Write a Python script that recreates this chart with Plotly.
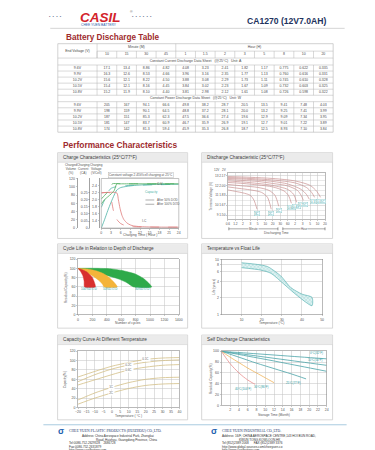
import plotly.graph_objects as go

W, H = 375, 450
FONT = "Liberation Sans, Arial, sans-serif"
SERIF = "Liberation Serif, DejaVu Serif, serif"

# ---------------- header text ----------------
brand_name = "CASIL"
brand_sub = "CHEE YUEN BATTERY"
model_title = "CA1270 (12V7.0AH)"
table_title = "Battery Discharge Table"
perf_title = "Performance Characteristics"

# ---------------- discharge table ----------------
minute_cols = ["10", "15", "30", "45"]
hour_cols = ["1", "1.5", "2", "3", "5", "8", "10", "20"]
end_voltages = ["9.6V", "9.9V", "10.2V", "10.5V", "10.8V"]
current_a_96 = ["17.1", "13.4", "8.86", "4.82", "4.08", "3.23", "2.41", "1.82", "1.17", "0.775", "0.622", "0.335"]
current_a_99 = ["16.3", "12.6", "8.53", "4.66", "3.96", "3.16", "2.35", "1.77", "1.13", "0.760", "0.616", "0.331"]
current_a_102 = ["15.6", "12.1", "8.22", "4.50", "3.88", "3.08", "2.29", "1.73", "1.11", "0.745", "0.610", "0.328"]
current_a_105 = ["15.4", "12.1", "8.16", "4.45", "3.84", "3.02", "2.23", "1.67", "1.09", "0.732", "0.603", "0.325"]
current_a_108 = ["15.2", "11.9", "8.10", "4.40", "3.81", "2.98", "2.12", "1.61", "1.08", "0.726", "0.598", "0.322"]
power_w_96 = ["205", "167", "94.1", "66.6", "49.8", "38.2", "28.7", "20.5", "13.5", "9.41", "7.48", "4.03"]
power_w_99 = ["198", "159", "90.1", "64.5", "48.8", "37.2", "28.1", "20.0", "13.2", "9.25", "7.41", "3.99"]
power_w_102 = ["187", "151", "85.3", "62.3", "47.5", "36.6", "27.4", "19.6", "12.9", "9.09", "7.34", "3.95"]
power_w_105 = ["181", "147", "83.7", "60.9", "46.7", "35.9", "26.9", "19.1", "12.7", "9.01", "7.22", "3.89"]
power_w_108 = ["174", "142", "81.3", "59.4", "45.9", "35.3", "26.8", "18.7", "12.5", "8.93", "7.10", "3.84"]
cc_caption = "Constant Current Discharge Data Sheet   (@25°C)   Unit: A"
cp_caption = "Constant Power Discharge Data Sheet   (@25°C)   Unit: W"

# ---------------- chart 1: charge characteristics ----------------
charge_hours_ticks = [0, 3, 6, 9, 12, 15, 18, 21, 24]
volume_ticks = [0, 20, 40, 60, 80, 100, 120]
current_ticks = [0, 0.05, 0.10, 0.15, 0.20, 0.25]
current_ticklabels = ["0", "0.05", "0.10", "0.15", "0.20", "0.25"]
voltage_ticks = [1.4, 1.6, 1.8, 2.0, 2.2, 2.4]
voltage_ticklabels = ["1.4", "1.6", "1.8", "2.0", "2.2", "2.4"]
vol100_t = [0, 1, 2, 3, 4, 4.8, 6, 8, 10, 14, 18, 24]
vol100_v = [0, 20, 42, 62, 80, 92, 98, 101, 103, 105, 106, 106]
vol50_t = [0, 1, 2, 2.5, 3, 4, 6, 8, 12, 18, 24]
vol50_v = [50, 68, 85, 92, 96, 99, 101, 103, 104, 105, 106]
cur100_t = [0, 4.8, 5.3, 5.8, 6.4, 7, 8, 9, 10, 12, 16, 24]
cur100_v = [0.25, 0.25, 0.20, 0.14, 0.09, 0.06, 0.035, 0.022, 0.015, 0.010, 0.007, 0.006]
cur50_t = [0, 2.6, 3.2, 3.7, 4.2, 5, 6, 7, 8, 10, 14, 24]
cur50_v = [0.25, 0.25, 0.19, 0.13, 0.09, 0.055, 0.032, 0.021, 0.014, 0.009, 0.007, 0.006]
volt100_t = [0, 1, 2, 3, 4, 4.8, 6, 10, 24]
volt100_v = [1.88, 2.0, 2.08, 2.16, 2.26, 2.45, 2.45, 2.45, 2.45]
volt50_t = [0, 1, 2, 3, 3.4, 6, 24]
volt50_v = [2.02, 2.12, 2.22, 2.34, 2.45, 2.45, 2.45]

# ---------------- chart 2: discharge characteristic ----------------
dis_time_labels = ["0.6", "1.2", "2", "3", "5", "10", "20", "30", "60", "2", "3", "5", "10", "20"]
dis_volt_ticks = [9, 10, 11, 12, 13]
dis_volt_labels = ["9", "10", "11", "12", "13"]
dis_cell_labels = ["1.50", "1.67", "1.83", "2.00", "2.17"]
dis_rates = ["3C", "2C", "1C", "0.6C", "0.4C", "0.25C", "0.17C", "0.1C", "0.05C"]
dis_x = [
    [0, 1, 2, 3, 3.5, 3.9],
    [0, 1.5, 3, 4.5, 5.3, 5.8],
    [0, 2, 4, 5.5, 6.3, 6.8],
    [0, 2, 4, 6, 7.5, 8.1, 8.5],
    [0, 2, 4, 6, 8, 8.8, 9.2],
    [0, 2, 4, 6, 8, 9.3, 9.8, 10.1],
    [0, 3, 6, 8, 9.8, 10.5, 10.9],
    [0, 3, 6, 9, 10.5, 11.2, 11.6],
    [0, 3, 6, 9, 11, 11.9, 12.4],
]
dis_v = [
    [11.55, 11.4, 11.25, 11.0, 10.5, 9.6],
    [11.85, 11.7, 11.55, 11.3, 10.8, 9.6],
    [12.1, 11.95, 11.8, 11.5, 11.0, 9.9],
    [12.3, 12.2, 12.05, 11.85, 11.45, 11.0, 10.2],
    [12.45, 12.35, 12.2, 12.0, 11.6, 11.1, 10.3],
    [12.6, 12.5, 12.4, 12.2, 11.95, 11.5, 11.0, 10.5],
    [12.7, 12.6, 12.4, 12.15, 11.6, 11.1, 10.6],
    [12.8, 12.7, 12.55, 12.25, 11.8, 11.3, 10.8],
    [12.9, 12.82, 12.7, 12.45, 12.0, 11.4, 10.8],
]

# ---------------- chart 3: cycle life ----------------
cycle_ticks = [0, 200, 400, 600, 800, 1000, 1200, 1400]
cycle_cap_ticks = [0, 20, 40, 60, 80, 100, 120]
dod100_up_x = [0, 60, 136, 200, 240]
dod100_up_y = [100, 97, 91, 80, 60]
dod100_lo_x = [0, 30, 68, 85, 91]
dod100_lo_y = [100, 95, 84, 72, 60]
dod50_up_x = [0, 120, 250, 350, 432, 500, 545]
dod50_up_y = [100, 99, 95, 89, 80.6, 70, 60]
dod50_lo_x = [0, 80, 159, 230, 295, 340, 363]
dod50_lo_y = [100, 95, 88, 81, 73.4, 66, 60]
dod30_up_x = [0, 200, 432, 600, 796, 920, 1022]
dod30_up_y = [100, 100.5, 99.5, 96, 88, 77, 60]
dod30_lo_x = [0, 120, 250, 400, 568, 680, 772]
dod30_lo_y = [100, 96, 91, 85, 77, 69, 60]
dod_labels = ["100%D.O.D", "50%D.O.D", "30%D.O.D"]

# ---------------- chart 4: float life ----------------
float_temp_ticks = [10, 20, 30, 40, 50]
float_life_ticks = [1, 2, 4, 6, 8, 10]
float_up_t = [10, 18, 23, 29.5, 34.4, 40, 45]
float_up_y = [8.7, 8.1, 7.4, 5.0, 3.1, 2.35, 2.05]
float_lo_t = [10, 19.7, 24.6, 31.1, 37.7, 45]
float_lo_y = [7.1, 6.4, 5.6, 3.55, 2.2, 1.45]

# ---------------- chart 5: capacity vs temperature ----------------
cap_temp_ticks = [-20, -15, -10, -5, 0, 5, 10, 15, 20, 25, 30, 35, 40]
cap_ticks = [0, 20, 40, 60, 80, 100, 120]
cap_temps = [-20, -10, 0, 10, 20, 30, 40]
cap_curves = [
    [65, 77, 88, 96, 102.5, 105.5, 106.5],
    [55, 70, 82, 90.5, 96.5, 100, 101.5],
    [48, 59, 70, 80, 86, 90, 91.5],
    [16, 31, 43, 53, 60, 63.5, 64.5],
    [7, 20, 31, 40.5, 47, 50, 51],
]
cap_labels = ["0.1C", "0.2C", "0.6C", "1C", "2C"]

# ---------------- chart 6: self discharge ----------------
sd_month_ticks = [2, 4, 6, 8, 10, 12, 14, 16, 18, 20, 22, 24]
sd_cap_ticks = [0, 20, 40, 60, 80, 100]
sd_months = [
    [0, 6, 12, 18, 24],
    [0, 6, 12, 18, 24],
    [0, 6, 12, 18, 24],
    [0, 4, 8, 12, 16, 19.3],
    [0, 2, 4, 6, 8, 10, 12],
    [0, 1, 2, 3, 4, 5, 6, 7, 7.7],
]
sd_caps = [
    [100, 96.5, 93, 89.5, 86],
    [100, 93.5, 87, 80.5, 74],
    [100, 91, 82, 72.5, 63],
    [100, 89, 78, 68, 58, 49],
    [100, 89, 79, 69, 60, 51, 42],
    [100, 88, 77, 68, 60, 53, 47, 42, 39],
]
sd_labels = ["0°C(32°F)", "10°C(50°F)", "", "25°C(77°F)", "30°C(86°F)", "40°C(104°F)"]
sd_colors = ["#4aa3a8", "#4aa3a8", "#4aa3a8", "#4aa3a8", "#f0b45a", "#e88f8f"]

# ---------------- footer text ----------------
footer_left = [
    "Address: China Aerospace Industrial Park, Zhongkai",
    "Road, Huizhou, Guangdong Province, China",
    "Tel:0086-752-2629328    2686728",
    "Fax:0086-752-2631879",
    "http://www.casilbattery.com",
]
footer_right = [
    "Address: 16/F, CHINA AEROSPACE CENTRE,143 HOI BUN ROAD,",
    "KWUN TONG,KOWLOON,HK",
    "Tel:(852)2389 2068      FAX:(852)2389 3376",
    "http://www.global-sources.com/cheeyuen.co",
    "http://www.casilbattery.com",
]
company_left = "CHEE YUEN PLASTIC PRODUCTS (HUIZHOU) CO.,LTD."
company_right = "CHEE YUEN INDUSTRIAL CO.,LTD."
panel_titles = [
    "Charge Characteristics (25°C/77°F)",
    "Discharge Characteristic (25°C/77°F)",
    "Cycle Life in Relation to Depth of Discharge",
    "Temperature vs Float Life",
    "Capacity Curve At Different Temperature",
    "Self Discharge Characteristics",
]

# =====================================================================
def px(x):
    return x / W


def py(y):
    return 1 - y / H


annotations = []
shapes = []


def ann(x, y, text, size=3.6, color="#444", xanchor="center", yanchor="middle",
        family=FONT, **kw):
    d = dict(x=px(x), y=py(y), xref="paper", yref="paper", text=text, showarrow=False,
             font=dict(size=size, color=color, family=family), xanchor=xanchor,
             yanchor=yanchor, borderpad=0)
    d.update(kw)
    annotations.append(d)


def rect(x0, y0, x1, y1, line_color="#c8c8c8", fill="rgba(0,0,0,0)", width=0.7, layer="below"):
    shapes.append(dict(type="rect", xref="paper", yref="paper", x0=px(x0), x1=px(x1),
                       y0=py(y0), y1=py(y1), line=dict(color=line_color, width=width),
                       fillcolor=fill, layer=layer))


def hline(x0, x1, y, color="#b8b8b8", width=0.5, dash="solid", layer="below"):
    shapes.append(dict(type="line", xref="paper", yref="paper", x0=px(x0), x1=px(x1),
                       y0=py(y), y1=py(y), line=dict(color=color, width=width, dash=dash),
                       layer=layer))


def vline(x, y0, y1, color="#b8b8b8", width=0.5, layer="below"):
    shapes.append(dict(type="line", xref="paper", yref="paper", x0=px(x), x1=px(x),
                       y0=py(y0), y1=py(y1), line=dict(color=color, width=width),
                       layer=layer))


TICKFONT = dict(size=3.5, color="#555", family=FONT)


def axstyle(**kw):
    base = dict(showline=True, linecolor="#8a8a8a", linewidth=0.6, mirror=True,
                ticks="outside", ticklen=1.2, tickwidth=0.4, tickcolor="#777",
                tickfont=TICKFONT, showgrid=True, gridcolor="#c2c2c2", gridwidth=0.5,
                zeroline=False, fixedrange=True)
    base.update(kw)
    return base


fig = go.Figure()

# ---------------- header ----------------
ann(38, 7, "•  •  •  •", size=4, color="#5a6a8a", xanchor="left")
ann(122, 7, "•  •  •  •  •  •", size=4, color="#5a6a8a", xanchor="left")
ann(91.5, 7.8, "<b><i>" + brand_name + "</i></b>", size=13.5, color="#d3232b")
ann(123, 2.5, "®", size=3.5, color="#666")
ann(90, 15.2, brand_sub, size=3.3, color="#2d5da8")
ann(281, 11.5, "<b>" + model_title + "</b>", size=8.6, color="#22335e")
hline(40, 340, 18.5, color="#c9c9c9", width=0.8, layer="above")
ann(55, 27.8, "<b>" + table_title + "</b>", size=8.2, color="#9e2b2d", xanchor="left")
ann(52, 136.3, "<b>" + perf_title + "</b>", size=8.4, color="#9e2b2d", xanchor="left")

# ---------------- table ----------------
col_edges = [47.7, 87.7] + [87.7 + 20.05 * (i + 1) for i in range(12)]
col_mid = [(col_edges[i] + col_edges[i + 1]) / 2 for i in range(13)]
row_edges = [34, 41.5, 48.5, 55.5, 61.6, 67.7, 73.8, 79.9, 86.0, 92.5, 98.66, 104.82,
             110.98, 117.14, 123.3]
row_mid = [(row_edges[i] + row_edges[i + 1]) / 2 for i in range(14)]
TL = "#b3b3b3"
for i, y in enumerate(row_edges):
    if i == 1:
        hline(col_edges[1], col_edges[-1], y, color=TL)
    else:
        hline(col_edges[0], col_edges[-1], y, color=TL, width=0.6 if i in (0, 14) else 0.5)
vline(col_edges[0], row_edges[0], row_edges[-1], color=TL, width=0.6)
vline(col_edges[-1], row_edges[0], row_edges[-1], color=TL, width=0.6)
vline(col_edges[1], row_edges[0], row_edges[2], color=TL)
vline(col_edges[5], row_edges[0], row_edges[1], color=TL)
for j in range(1, 13):
    vline(col_edges[j], row_edges[1], row_edges[2], color=TL)
    vline(col_edges[j], row_edges[3], row_edges[8], color=TL)
    vline(col_edges[j], row_edges[9], row_edges[14], color=TL)

tx, ty, tt = [], [], []
tx.append(col_mid[0]); ty.append((row_edges[0] + row_edges[2]) / 2); tt.append("End Voltage (V)")
tx.append((col_edges[1] + col_edges[5]) / 2); ty.append(row_mid[0]); tt.append("Minute (M)")
tx.append((col_edges[5] + col_edges[13]) / 2); ty.append(row_mid[0]); tt.append("Hour (H)")
for j, lab in enumerate(minute_cols + hour_cols):
    tx.append(col_mid[j + 1]); ty.append(row_mid[1]); tt.append(lab)
tx.append((col_edges[0] + col_edges[-1]) / 2); ty.append(row_mid[2]); tt.append(cc_caption)
tx.append((col_edges[0] + col_edges[-1]) / 2); ty.append(row_mid[8]); tt.append(cp_caption)
cc_rows = [current_a_96, current_a_99, current_a_102, current_a_105, current_a_108]
cp_rows = [power_w_96, power_w_99, power_w_102, power_w_105, power_w_108]
for r, (ev, vals) in enumerate(zip(end_voltages, cc_rows)):
    tx.append(col_mid[0]); ty.append(row_mid[3 + r]); tt.append(ev)
    for j, v in enumerate(vals):
        tx.append(col_mid[j + 1]); ty.append(row_mid[3 + r]); tt.append(v)
for r, (ev, vals) in enumerate(zip(end_voltages, cp_rows)):
    tx.append(col_mid[0]); ty.append(row_mid[9 + r]); tt.append(ev)
    for j, v in enumerate(vals):
        tx.append(col_mid[j + 1]); ty.append(row_mid[9 + r]); tt.append(v)
fig.add_trace(go.Scatter(x=tx, y=ty, text=tt, mode="text", xaxis="x10", yaxis="y10",
                         textfont=dict(size=3.5, color="#4a4a4a", family=FONT),
                         textposition="middle center", cliponaxis=False,
                         hoverinfo="skip", showlegend=False))

# ---------------- panels ----------------
panel_boxes = [
    (47.5, 144, 180, 230.5), (194.3, 144, 327.7, 230.5),
    (47.5, 236, 180, 321), (194.3, 236, 327.7, 321),
    (47.5, 328, 180, 413.5), (194.3, 328, 327.7, 413.5),
]
for title, (x0, y0, x1, y1) in zip(panel_titles, panel_boxes):
    rect(x0, y0, x1, y1, line_color="#cdcdcd", fill="white", width=0.8)
    rect(x0 + 0.4, y0 + 0.4, x1 - 0.4, y0 + 9.6, line_color="rgba(0,0,0,0)", fill="#ebebeb", width=0)
    hline(x0, x1, y0 + 9.6, color="#d0d0d0", width=0.6)
    ann(x0 + 4.5, y0 + 4.9, title, size=4.7, color="#3c3c3c", xanchor="left")

# ---------------- chart 1 ----------------
C_VOL, C_CUR, C_VOLT = "#4db2a6", "#e07c7c", "#4fae5e"
for tt_, vv, dash, col, ax in [
    (vol100_t, vol100_v, "solid", C_VOL, "y"), (vol50_t, vol50_v, "dash", C_VOL, "y"),
    (cur100_t, cur100_v, "solid", C_CUR, "y2"), (cur50_t, cur50_v, "dash", C_CUR, "y2"),
    (volt100_t, volt100_v, "solid", C_VOLT, "y3"), (volt50_t, volt50_v, "dash", C_VOLT, "y3"),
]:
    fig.add_trace(go.Scatter(x=tt_, y=vv, mode="lines", xaxis="x", yaxis=ax,
                             line=dict(color=col, width=0.8, dash=dash, shape="spline", smoothing=0.6),
                             hoverinfo="skip", showlegend=False))
rect(92, 170, 171, 220, line_color="#9a9a9a", width=0.6, layer="above")
ann(61, 160.7, "Charged<br>Volume<br>(%)", size=3.1, color="#555")
ann(74, 160.7, "Charging<br>Current<br>(CA)", size=3.1, color="#555")
ann(87, 160.7, "Charging<br>Voltage<br>(V/Cell)", size=3.1, color="#555")
ann(132, 166.8, "Constant voltage 2.45V/cell charging at 25°C", size=3.2, color="#555",
    bordercolor="#aaaaaa", borderwidth=0.4, borderpad=0.4)
ann(131.5, 226.8, "Charging Time ( Hour )", size=3.4, color="#555")
hline(137, 146, 191.7, color="#777", width=0.6, dash="dash", layer="above")
ann(147.5, 191.7, "After 50% DOD", size=3, color="#555", xanchor="left")
hline(137, 146, 196, color="#777", width=0.6, layer="above")
ann(147.5, 196, "After 100% DOD", size=3, color="#555", xanchor="left")
ann(143, 183.3, "Capacity", size=3.2, color=C_VOL)
ann(152, 175.5, "C-V", size=3.2, color="#555")
ann(136, 212.5, "I-C", size=3.2, color="#555")

# ---------------- chart 2 ----------------
for xs, vs in zip(dis_x, dis_v):
    fig.add_trace(go.Scatter(x=xs, y=vs, mode="lines", xaxis="x4", yaxis="y4",
                             line=dict(color="#c99090", width=0.7, shape="spline", smoothing=0.8),
                             hoverinfo="skip", showlegend=False))
fig.add_trace(go.Scatter(x=[None], y=[None], xaxis="x4", yaxis="y5", showlegend=False, hoverinfo="skip"))
for k, (name, xs, vs) in enumerate(zip(dis_rates, dis_x, dis_v)):
    if name == "0.17C":
        continue
    annotations.append(dict(x=xs[-1], y=vs[-1] - 0.18, xref="x4", yref="y4", text=name,
                            showarrow=False, font=dict(size=3, color="#2f9da3", family=FONT),
                            bgcolor="white", bordercolor="#7cc3c6", borderwidth=0.4,
                            borderpad=0.3, yanchor="top", xanchor="center"))
ann(209.5, 161, "12V", size=3, color="#555")
ann(217, 161, "2V", size=3, color="#555")
ann(203.5, 187.5, "Terminal Voltage (V)", size=3.2, color="#555", textangle=-90)
hline(222, 272, 220.8, color="#555", width=0.5, layer="above")
hline(277, 320, 220.8, color="#555", width=0.5, layer="above")
vline(222, 219.3, 222.3, color="#555", width=0.6, layer="above")
vline(272, 219.3, 222.3, color="#555", width=0.6, layer="above")
vline(277, 219.3, 222.3, color="#555", width=0.6, layer="above")
vline(320, 219.3, 222.3, color="#555", width=0.6, layer="above")
ann(247, 220.8, "Minute", size=2.9, color="#555", bgcolor="white")
ann(298.5, 220.8, "Hour", size=2.9, color="#555", bgcolor="white")
ann(271, 225.2, "Discharging Time", size=3.2, color="#555")

# ---------------- chart 3 ----------------
for ux, uy, lx, ly, col in [
    (dod30_up_x, dod30_up_y, dod30_lo_x, dod30_lo_y, "#2eaa4a"),
    (dod50_up_x, dod50_up_y, dod50_lo_x, dod50_lo_y, "#f4b43a"),
    (dod100_up_x, dod100_up_y, dod100_lo_x, dod100_lo_y, "#d8302f"),
]:
    fig.add_trace(go.Scatter(x=ux + lx[::-1], y=uy + ly[::-1], mode="lines", fill="toself",
                             fillcolor=col, line=dict(color=col, width=0.5, shape="spline", smoothing=0.6),
                             xaxis="x6", yaxis="y6", hoverinfo="skip", showlegend=False))
for lab, ux, lx in zip(dod_labels, [dod100_up_x, dod50_up_x, dod30_up_x], [dod100_lo_x, dod50_lo_x, dod30_lo_x]):
    annotations.append(dict(x=(ux[-1] + lx[-1]) / 2, y=55, xref="x6", yref="y6", text=lab,
                            showarrow=False, font=dict(size=3, color="#2f9da3", family=FONT),
                            xanchor="center", yanchor="middle"))
ann(56, 279.5, "Residual Capacity(%)", size=3.2, color="#555", textangle=-90)
ann(119.7, 315.5, "Number of cycles", size=3.3, color="#555")

# ---------------- chart 4 ----------------
fig.add_trace(go.Scatter(x=float_up_t + float_lo_t[::-1], y=float_up_y + float_lo_y[::-1],
                         mode="lines", fill="toself", xaxis="x7", yaxis="y7",
                         fillcolor="rgba(190,230,230,0.6)",
                         fillpattern=dict(shape="x", fgcolor="#45a9aa", bgcolor="rgba(215,240,240,0.8)",
                                          size=2.6, solidity=0.25),
                         line=dict(color="#45a9aa", width=0.6, shape="spline", smoothing=0.7),
                         hoverinfo="skip", showlegend=False))
ann(206.5, 279.5, "Life (years)", size=3.2, color="#555", textangle=-90)
ann(265.7, 315.7, "Temperature (°C)", size=3.3, color="#555")

# ---------------- chart 5 ----------------
for k, cv in enumerate(cap_curves):
    fig.add_trace(go.Scatter(x=cap_temps, y=cv, mode="lines", xaxis="x8", yaxis="y8",
                             line=dict(color="#d3bf86", width=0.8, shape="spline", smoothing=0.8),
                             hoverinfo="skip", showlegend=False))
cap_label_idx = [4, 3, 3, 2, 2]
for lab, cv, idx in zip(cap_labels, cap_curves, cap_label_idx):
    annotations.append(dict(x=cap_temps[idx], y=cv[idx], xref="x8", yref="y8", text=lab,
                            showarrow=False, font=dict(size=3, color="#666", family=FONT),
                            bgcolor="white", borderpad=0.2, xanchor="center", yanchor="middle"))
ann(55, 372.7, "Capacity(%)", size=3.2, color="#555", textangle=-90)
ann(120, 409.3, "Temperature ( °C )", size=3.3, color="#555")

# ---------------- chart 6 ----------------
for ms, cs, col, lab in zip(sd_months, sd_caps, sd_colors, sd_labels):
    fig.add_trace(go.Scatter(x=ms, y=cs, mode="lines", xaxis="x9", yaxis="y9",
                             line=dict(color=col, width=0.8, shape="spline", smoothing=0.8),
                             hoverinfo="skip", showlegend=False))
    if lab:
        right = ms[-1] >= 23
        annotations.append(dict(x=ms[-1] - (0.3 if right else 0.6), y=cs[-1] + (2.5 if right else -1),
                                xref="x9", yref="y9", text=lab, showarrow=False,
                                font=dict(size=2.9, color="#2f9da3", family=FONT),
                                xanchor="right", yanchor="bottom" if right else "top"))
ann(204.5, 371.7, "Residual Capacity(%)", size=3.2, color="#555", textangle=-90)
ann(268, 408.2, "Storage Time (Month)", size=3.3, color="#555")

# ---------------- footer ----------------
hline(33, 342, 418.5, color="#a9cbe0", width=1, layer="above")
ann(50.5, 425.0, "<b>σ</b>", size=9, color="#1f62b0")
ann(58, 425.2, company_left, size=3.7, color="#22356a", xanchor="left", family=SERIF)
left_pos = [(71.5, 429.8), (86, 433.4), (58, 437.0), (58, 440.6), (58, 444.2)]
for t, (x, y) in zip(footer_left, left_pos):
    ann(x, y, t, size=3.1, color="#333", xanchor="left")
ann(206.5, 425.0, "<b>σ</b>", size=9, color="#1f62b0")
ann(213.5, 425.4, company_right, size=3.7, color="#22356a", xanchor="left", family=SERIF)
right_pos = [(213.5, 429.8), (231.5, 433.4), (213.5, 437.0), (213.5, 440.6), (213.5, 444.2)]
for t, (x, y) in zip(footer_right, right_pos):
    ann(x, y, t, size=3.1, color="#333", xanchor="left")

# ---------------- axes ----------------
layout_axes = dict(
    # chart 1
    xaxis=axstyle(domain=[px(92), px(171)], range=[0, 24], anchor="y", tickvals=charge_hours_ticks,
                  showgrid=False, mirror=False),
    yaxis=axstyle(domain=[py(220), py(170)], range=[0, 120], anchor="free", position=px(67),
                  tickvals=volume_ticks, showgrid=False, mirror=False, linecolor="#666"),
    yaxis2=axstyle(domain=[py(220), py(170)], range=[0, 0.352], overlaying="y", anchor="free",
                   position=px(80), tickvals=current_ticks, ticktext=current_ticklabels,
                   showgrid=False, mirror=False, linecolor="#666"),
    yaxis3=axstyle(domain=[py(220), py(170)], range=[1.2, 2.6], overlaying="y", anchor="free",
                   position=px(89.5), tickvals=voltage_ticks, ticktext=voltage_ticklabels,
                   showgrid=False, mirror=False, linecolor="#666"),
    # chart 2
    xaxis4=axstyle(domain=[px(221), px(320)], range=[0, 13], anchor="y4",
                   tickvals=list(range(len(dis_time_labels))), ticktext=dis_time_labels,
                   tickfont=dict(size=3.2, color="#555", family=FONT)),
    yaxis4=axstyle(domain=[py(211), py(164)], range=[8.6, 13.3], anchor="x4",
                   tickvals=dis_volt_ticks, ticktext=dis_cell_labels,
                   tickfont=dict(size=3.2, color="#555", family=FONT),
                   minor=dict(tickvals=[9.5, 10.5, 11.5, 12.5], showgrid=True,
                              gridcolor="#c9c9c9", gridwidth=0.4, ticks="")),
    yaxis5=dict(domain=[py(211), py(164)], range=[8.6, 13.3], overlaying="y4", anchor="free",
                position=px(211.5), tickvals=dis_volt_ticks, ticktext=dis_volt_labels,
                showline=False, showgrid=False, zeroline=False, ticks="",
                tickfont=dict(size=3.2, color="#555", family=FONT), fixedrange=True),
    # chart 3
    xaxis6=axstyle(domain=[px(68.3), px(171)], range=[0, 1400], anchor="y6", tickvals=cycle_ticks),
    yaxis6=axstyle(domain=[py(307.3), py(251.5)], range=[0, 120], anchor="x6", tickvals=cycle_cap_ticks),
    # chart 4
    xaxis7=axstyle(domain=[px(214.5), px(317)], range=[0, 50], anchor="y7", tickvals=float_temp_ticks),
    yaxis7=axstyle(domain=[py(307.3), py(251.7)], type="log", range=[0, 1], anchor="x7",
                   tickvals=float_life_ticks, ticktext=[str(v) for v in float_life_ticks]),
    # chart 5
    xaxis8=axstyle(domain=[px(68.3), px(171.7)], range=[-20, 40], anchor="y8", tickvals=cap_temp_ticks),
    yaxis8=axstyle(domain=[py(401), py(344.3)], range=[0, 120], anchor="x8", tickvals=cap_ticks),
    # chart 6
    xaxis9=axstyle(domain=[px(214.4), px(321.7)], range=[0, 24], anchor="y9", tickvals=sd_month_ticks),
    yaxis9=axstyle(domain=[py(399), py(344.3)], range=[0, 100], anchor="x9", tickvals=sd_cap_ticks),
    # full page (table text)
    xaxis10=dict(domain=[0, 1], range=[0, W], visible=False, fixedrange=True, anchor="y10"),
    yaxis10=dict(domain=[0, 1], range=[H, 0], visible=False, fixedrange=True, anchor="x10"),
)

fig.update_layout(
    width=W, height=H, margin=dict(l=0, r=0, t=0, b=0, pad=0),
    paper_bgcolor="white", plot_bgcolor="rgba(0,0,0,0)",
    showlegend=False, font=dict(family=FONT, size=4, color="#444"),
    annotations=annotations, shapes=shapes, hovermode=False,
    **layout_axes,
)

fig.write_html("out.html", config={"displayModeBar": False, "staticPlot": True})
